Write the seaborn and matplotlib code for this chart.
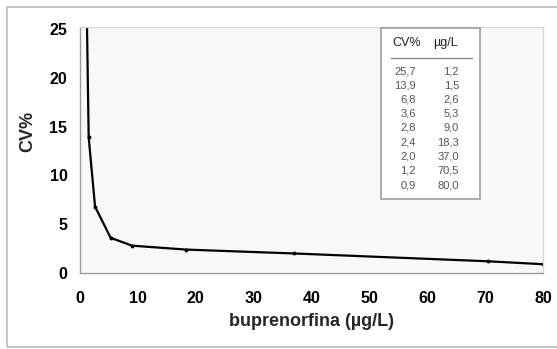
import matplotlib
matplotlib.use("Agg")
import matplotlib.pyplot as plt
from matplotlib.patches import Rectangle
from matplotlib.lines import Line2D
import seaborn as sns
import pandas as pd

# ---- data ----
conc_ugL = [1.2, 1.5, 2.6, 5.3, 9.0, 18.3, 37.0, 70.5, 80.0]
cv_pct = [25.7, 13.9, 6.8, 3.6, 2.8, 2.4, 2.0, 1.2, 0.9]
x_ticks = [0, 10, 20, 30, 40, 50, 60, 70, 80]
y_ticks = [0, 5, 10, 15, 20, 25]
x_label = "buprenorfina (µg/L)"
y_label = "CV%"
table_headers = ["CV%", "µg/L"]

df = pd.DataFrame({"conc": conc_ugL, "cv": cv_pct})

sns.set_theme(style="white")
plt.rcParams["font.family"] = ["Liberation Sans", "DejaVu Sans"]

W, H = 557, 349
fig = plt.figure(figsize=(W / 100, H / 100), dpi=100)
fig.patch.set_facecolor("white")

def fx(px):
    return px / W

def fy(py):
    return 1 - py / H

# outer border
fig.patches.append(Rectangle((fx(7), fy(347)), fx(560) - fx(7), fy(7) - fy(347),
                             transform=fig.transFigure, fill=False,
                             edgecolor="#bdbdbd", lw=1.2, zorder=0))

L, R, T, B = 80, 543, 27, 273
ax = fig.add_axes([fx(L), fy(B), fx(R) - fx(L), fy(T) - fy(B)])
ax.set_facecolor("#f8f8f8")

sns.lineplot(data=df, x="conc", y="cv", ax=ax, color="black", lw=1.6,
             marker="o", markersize=2.8, markeredgewidth=0, sort=False)

ax.set_xlim(0, 80)
ax.set_ylim(0, 25.2)
ax.set_xticks(x_ticks)
ax.set_yticks(y_ticks)
ax.tick_params(axis="both", which="major", direction="out", length=4, width=1,
               color="#999999", labelsize=11.5, labelcolor="black")
ax.tick_params(axis="x", pad=9)
ax.tick_params(axis="y", pad=5)
for lab in ax.get_xticklabels() + ax.get_yticklabels():
    lab.set_fontweight("bold")

for s in ["left", "bottom"]:
    ax.spines[s].set_color("#9a9a9a")
    ax.spines[s].set_linewidth(1)
for s in ["top", "right"]:
    ax.spines[s].set_color("#d8d8d8")
    ax.spines[s].set_linewidth(1)

ax.set_xlabel(x_label, fontsize=13, fontweight="bold", labelpad=4)
ax.set_ylabel(y_label, fontsize=13, fontweight="bold")
ax.yaxis.set_label_coords((28 - L) / (R - L), (B - 131) / (B - T))
ax.xaxis.set_label_coords(0.5, (B - 322) / (B - T))
ax.xaxis.label.set_va("center")
ax.yaxis.label.set_va("center")

# ---- table box ----
fig.patches.append(Rectangle((fx(381), fy(199)), fx(480) - fx(381), fy(28) - fy(199),
                             transform=fig.transFigure, facecolor="white",
                             edgecolor="#a5a5a5", lw=1.3, zorder=5))
fig.text(fx(392), fy(43), table_headers[0], fontsize=9, color="#222222",
         ha="left", va="center", zorder=6)
fig.text(fx(433), fy(43), table_headers[1], fontsize=9, color="#222222",
         ha="left", va="center", zorder=6)
fig.add_artist(Line2D([fx(391), fx(472)], [fy(58), fy(58)], transform=fig.transFigure,
                      color="#8a8a8a", lw=1, zorder=6))
for i, (c, v) in enumerate(zip(cv_pct, conc_ugL)):
    yy = 71 + i * 14.25
    fig.text(fx(416), fy(yy), f"{c:.1f}".replace(".", ","), fontsize=8,
             color="#555555", ha="right", va="center", zorder=6)
    fig.text(fx(459), fy(yy), f"{v:.1f}".replace(".", ","), fontsize=8,
             color="#555555", ha="right", va="center", zorder=6)

fig.savefig("out.png", dpi=100)
